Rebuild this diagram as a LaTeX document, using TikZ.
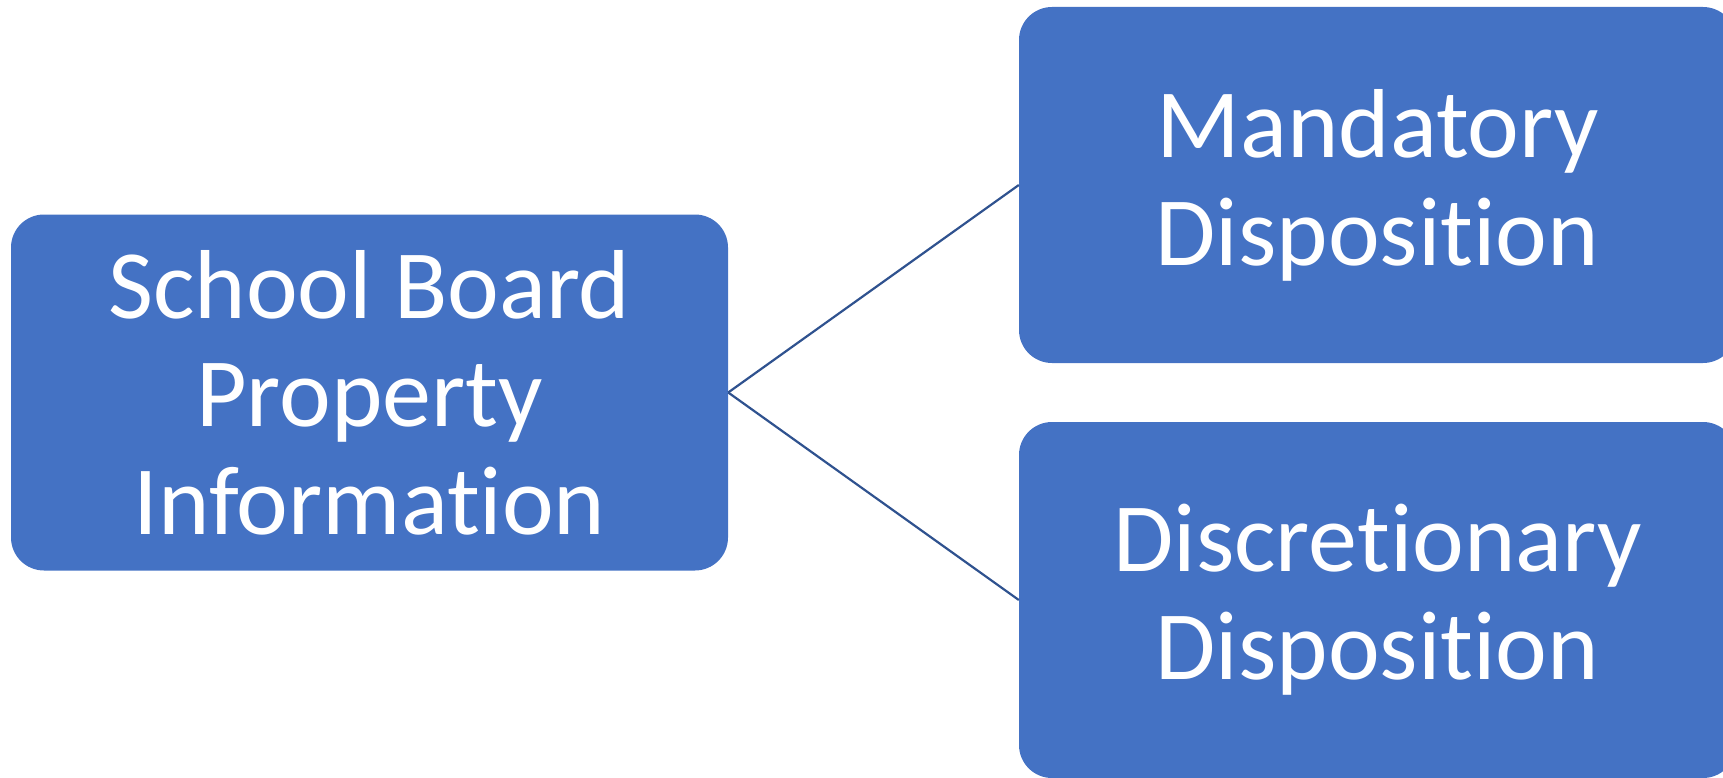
\documentclass[tikz,border=0pt]{standalone}
\usepackage{fontspec}
\setmainfont[Ligatures=NoCommon]{Carlito}
\definecolor{boxblue}{HTML}{4472C4}
\definecolor{lineblue}{HTML}{2F528F}
\begin{document}
\begin{tikzpicture}[x=1pt,y=-1pt,
  boxnode/.style={rectangle, rounded corners=33pt, fill=boxblue, draw=none,
    minimum width=717pt, minimum height=356pt, inner sep=0pt,
    text=white, align=center, font=\fontsize{98}{108}\selectfont},
  conn/.style={draw=lineblue, line width=2.2pt}]
\useasboundingbox (0,0) rectangle (1723,778);
\node[boxnode] (src) at (369.5,392.5) {School Board\\Property\\Information};
\node[boxnode] (mand) at (1377.5,185) {Mandatory\\Disposition};
\node[boxnode] (disc) at (1377.5,600) {Discretionary\\Disposition};
\draw[conn] (src.east) -- (mand.west);
\draw[conn] (src.east) -- (disc.west);
\end{tikzpicture}
\end{document}
